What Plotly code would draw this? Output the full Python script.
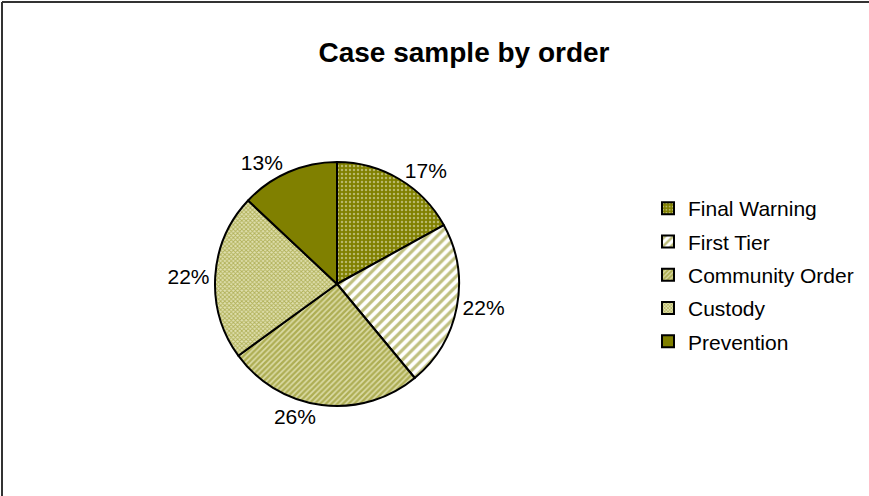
import plotly.graph_objects as go

title = "Case sample by order"
categories = ["Final Warning", "First Tier", "Community Order", "Custody", "Prevention"]
values = [17, 22, 26, 22, 13]

olive = "#808000"
shapes_ = [".", "/", "/", "x", ""]
fg = ["#f0f0d8", olive, olive, olive, olive]
bg = [olive, "#ffffff", "#dcdca8", "#e0e0b0", olive]
psize = [4, 7, 4, 3, 8]
psol = [0.3, 0.45, 0.6, 0.5, 0.3]

FONT = "Liberation Sans, Arial"

fig = go.Figure()
fig.add_trace(go.Pie(
    labels=categories, values=values, sort=False, direction="clockwise",
    rotation=0, textinfo="percent", textposition="outside",
    texttemplate="%{percent:.0%}",
    textfont=dict(family=FONT, size=21, color="black"),
    marker=dict(colors=bg, line=dict(color="black", width=2),
                pattern=dict(shape=shapes_, fgcolor=fg, bgcolor=bg, size=psize,
                             solidity=psol, fillmode="overlay")),
    domain=dict(x=[(337-122)/869, (337+122)/869], y=[1-(284+122)/496, 1-(284-122)/496]),
    showlegend=False,
))

for i, c in enumerate(categories):
    fig.add_trace(go.Bar(
        x=[None], y=[None], name=c, legendgroup=c,
        marker=dict(color=bg[i], line=dict(color="black", width=2),
                    pattern=dict(shape=shapes_[i], fgcolor=fg[i], bgcolor=bg[i],
                                 size=psize[i], solidity=psol[i], fillmode="overlay")),
    ))

fig.update_layout(
    width=869, height=496,
    margin=dict(l=0, r=0, t=0, b=0),
    paper_bgcolor="white", plot_bgcolor="white",
    title=dict(text="<b>" + title + "</b>", x=464/869, xanchor="center", y=1-52/496, yanchor="middle",
               font=dict(family=FONT, size=28, color="black")),
    xaxis=dict(visible=False), yaxis=dict(visible=False),
    legend=dict(x=648/869, xanchor="left", y=1-188/496, yanchor="top",
                font=dict(family=FONT, size=21, color="black"),
                traceorder="grouped", tracegroupgap=3, itemwidth=30,
                bgcolor="rgba(0,0,0,0)"),
    shapes=[
        dict(type="line", xref="paper", yref="paper", x0=2/869, x1=1, y0=1-2/496, y1=1-2/496,
             line=dict(color="#333333", width=2)),
        dict(type="line", xref="paper", yref="paper", x0=2/869, x1=2/869, y0=0, y1=1-2/496,
             line=dict(color="#333333", width=2)),
    ],
)

fig.write_html("out.html")
